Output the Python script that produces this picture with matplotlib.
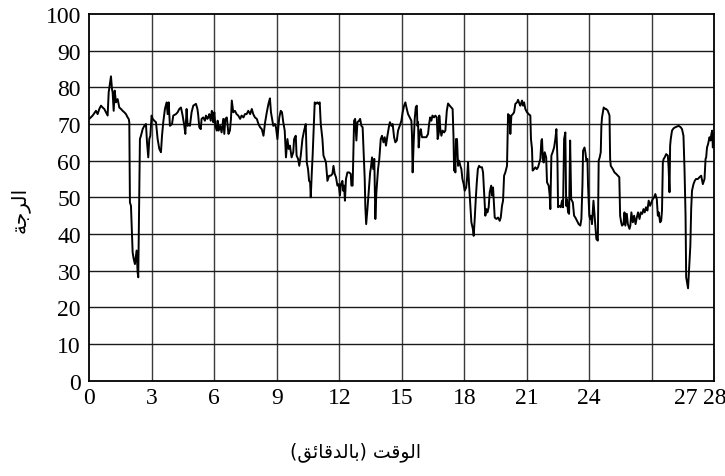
import matplotlib
matplotlib.use("Agg")
import matplotlib.pyplot as plt

# time positions (axis units) and values
time_pos = [
    0.00, 0.16, 0.32, 0.40, 0.48, 0.56, 0.64, 0.72, 0.80, 0.88, 0.93, 1.04, 1.09, 1.12, 1.17, 1.22, 1.28, 1.36,
    1.44, 1.52, 1.60, 1.68, 1.76, 1.84, 1.89, 1.92, 1.95, 2.00, 2.03, 2.08, 2.13, 2.19, 2.24, 2.27, 2.32, 2.35,
    2.43, 2.48, 2.56, 2.64, 2.72, 2.77, 2.83, 2.88, 2.93, 2.99, 3.04, 3.12, 3.20, 3.28, 3.36, 3.44, 3.49, 3.55,
    3.63, 3.71, 3.76, 3.81, 3.87, 3.97, 4.03, 4.16, 4.24, 4.32, 4.40, 4.48, 4.56, 4.61, 4.67, 4.72, 4.80,
    4.83, 4.91, 4.99, 5.12, 5.19, 5.23, 5.28, 5.35, 5.39, 5.47, 5.55, 5.60, 5.67, 5.71, 5.76, 5.83, 5.88, 5.92,
    5.95, 6.00, 6.05, 6.12, 6.16, 6.21, 6.28, 6.35, 6.43, 6.48, 6.53, 6.60, 6.68, 6.75, 6.80, 6.84, 6.91, 6.99,
    7.07, 7.15, 7.24, 7.31, 7.40, 7.47, 7.55, 7.63, 7.72, 7.80, 7.87, 7.95, 8.04, 8.12, 8.20, 8.28, 8.36, 8.44,
    8.52, 8.60, 8.67, 8.72, 8.79, 8.83, 8.91, 8.96, 9.03, 9.08, 9.12, 9.19, 9.25, 9.31, 9.38, 9.44, 9.51, 9.57,
    9.63, 9.71, 9.79,
    9.83, 9.91, 9.95, 10.02, 10.08, 10.15, 10.23, 10.31, 10.39, 10.44, 10.50, 10.55, 10.60, 10.63, 10.68, 10.72,
    10.79, 10.82, 10.87, 10.95, 11.00, 11.06, 11.11, 11.19, 11.24, 11.30, 11.36, 11.43, 11.51, 11.59, 11.67,
    11.72, 11.78, 11.84, 11.91, 11.97, 12.03, 12.08, 12.15, 12.19, 12.23, 12.27, 12.32, 12.39, 12.47, 12.55,
    12.58, 12.64, 12.71, 12.76, 12.82, 12.87, 12.95, 13.00, 13.06, 13.12, 13.16, 13.22, 13.25, 13.29, 13.35,
    13.41, 13.48, 13.52, 13.57, 13.63, 13.68, 13.73, 13.78, 13.86, 13.92, 13.99, 14.05, 14.12, 14.18, 14.24,
    14.31, 14.39, 14.43, 14.50, 14.56, 14.63, 14.69, 14.76,
    14.82, 14.90, 14.98, 15.04, 15.11, 15.17, 15.24, 15.30, 15.38, 15.46, 15.49, 15.52, 15.57, 15.62, 15.67,
    15.72, 15.75, 15.78, 15.81, 15.86, 15.91, 15.97, 16.07, 16.18, 16.26, 16.31, 16.36, 16.42, 16.47, 16.55,
    16.61, 16.68, 16.72, 16.77, 16.80, 16.85, 16.90, 16.96, 17.03, 17.09, 17.16, 17.22, 17.30, 17.38, 17.44,
    17.48, 17.51, 17.54, 17.57, 17.60, 17.65, 17.70, 17.75, 17.81, 17.86, 17.91, 17.97, 18.02, 18.09, 18.13,
    18.18, 18.23, 18.28, 18.34, 18.41, 18.45, 18.50, 18.55, 18.60, 18.65, 18.71, 18.77, 18.85, 18.90, 18.95,
    19.01, 19.06, 19.11, 19.17, 19.22, 19.29, 19.33, 19.38, 19.43, 19.46, 19.54, 19.62, 19.70, 19.75,
    19.81, 19.86, 19.91, 19.97, 20.05, 20.10, 20.17, 20.21, 20.26, 20.33, 20.39, 20.45, 20.53, 20.58, 20.65,
    20.69, 20.77, 20.82, 20.87, 20.93, 21.01, 21.09, 21.17, 21.20, 21.25, 21.28, 21.35, 21.41, 21.48, 21.54,
    21.60, 21.65, 21.70, 21.73, 21.77, 21.81, 21.86, 21.93, 21.97, 22.05, 22.10, 22.13, 22.18, 22.24, 22.31,
    22.37, 22.42, 22.47, 22.50, 22.57, 22.63, 22.69, 22.74, 22.79, 22.85, 22.89, 22.93, 22.98, 23.03, 23.08,
    23.13, 23.21, 23.27, 23.33, 23.41, 23.49, 23.57, 23.62, 23.67, 23.70, 23.77, 23.81, 23.86, 23.91, 23.94,
    24.00, 24.04, 24.08, 24.13, 24.20, 24.24, 24.29, 24.34, 24.41, 24.45, 24.50, 24.55, 24.58, 24.61, 24.69,
    24.77,
    24.81, 24.89, 24.97, 25.00, 25.03, 25.13, 25.21, 25.29, 25.37, 25.44, 25.48, 25.53, 25.57, 25.64, 25.69,
    25.73, 25.80, 25.85, 25.93, 25.97, 26.02, 26.09, 26.15, 26.22, 26.28, 26.34, 26.41, 26.47, 26.54, 26.60,
    26.66, 26.72, 26.79, 26.85, 26.92, 26.98, 27.04, 27.11, 27.17, 27.24, 27.29, 27.33, 27.40, 27.45, 27.49,
    27.53, 27.57, 27.62, 27.69, 27.77, 27.81, 27.85, 27.88, 27.91, 27.97, 28.04, 28.12, 28.20, 28.29, 28.39,
    28.45, 28.52, 28.57, 28.62, 28.65, 28.69, 28.74, 28.81, 28.85, 28.89, 28.93, 29.00, 29.06, 29.12, 29.21,
    29.29, 29.37, 29.45, 29.53, 29.58, 29.61, 29.65, 29.70, 29.77, 29.82, 29.86, 29.90, 29.93, 29.96, 30.00,
]

level = [
    71.4, 72.3, 73.6, 72.7, 74.1, 75.0, 74.5, 74.1, 73.2, 72.3, 78.6, 83.0, 79.5, 78.6, 73.6, 79.1, 75.9, 76.8,
    74.5, 74.1, 73.6, 73.2, 72.7, 71.8, 71.4, 70.5, 48.6, 47.7, 43.2, 35.0, 33.2, 31.8, 34.1, 35.5, 29.5, 28.2,
    65.9, 66.8, 68.6, 69.5, 70.0, 65.0, 60.9, 65.9, 66.8, 72.3, 71.4, 70.9, 70.5, 65.9, 63.2, 62.3, 66.8, 70.5,
    74.1, 75.9, 72.7, 75.9, 69.5, 70.0, 72.3, 72.7, 73.2, 74.1, 74.5, 72.3, 69.5, 67.3, 74.1, 69.5, 70.0,
    69.5, 73.2, 75.0, 75.5, 74.1, 72.3, 69.1, 68.6, 71.4, 71.8, 70.9, 72.3, 71.4, 71.8, 72.7, 70.9, 73.6, 72.7,
    70.5, 73.2, 69.5, 68.2, 70.9, 68.2, 69.5, 67.7, 71.4, 67.3, 71.4, 71.8, 67.3, 68.2, 71.4, 76.4, 73.2, 73.6,
    72.7, 72.3, 71.4, 72.3, 71.8, 72.7, 72.7, 73.6, 72.7, 74.1, 72.7, 71.8, 71.4, 70.0, 69.1, 68.6, 66.8, 70.5,
    73.2, 75.5, 77.0, 73.2, 70.9, 69.5, 70.0, 69.1, 65.9, 69.5, 71.8, 73.6, 73.2, 70.5, 68.2, 60.9, 65.9, 63.2,
    64.1, 60.9, 62.3,
    65.9, 66.8, 61.4, 60.5, 58.6, 61.4, 65.9, 68.2, 70.0, 59.5, 57.7, 54.5, 54.1, 50.0, 56.8, 61.4,
    71.4, 75.9, 75.5, 75.9, 75.5, 75.9, 70.0, 65.9, 61.4, 60.5, 59.5, 54.5, 55.9, 55.9, 56.4,
    58.6, 56.4, 55.5, 53.2, 53.6, 50.5, 53.6, 54.5, 51.8, 53.2, 49.1, 55.0, 56.8, 56.8, 56.4,
    53.2, 53.2, 70.9, 71.4, 65.5, 70.5, 70.9, 71.4, 69.5, 69.1, 63.6, 55.0, 47.3, 42.7, 46.8,
    51.4, 56.8, 58.2, 60.9, 57.7, 60.5, 44.1, 51.4, 57.7, 60.5, 65.9, 66.8, 65.0, 66.4, 64.1,
    66.8, 69.5, 70.5, 69.5, 70.0, 66.4, 65.0, 65.5,
    68.2, 69.5, 70.9, 73.2, 75.0, 75.9, 74.1, 72.7, 71.8, 70.9, 66.8, 56.8, 65.0, 71.4, 74.5,
    75.0, 69.5, 70.5, 63.6, 67.3, 68.6, 66.4, 66.4, 66.4, 67.3, 70.0, 71.8, 70.9, 72.3, 71.8,
    72.3, 71.8, 65.9, 67.3, 72.3, 68.6, 66.8, 68.2, 67.7, 68.2, 73.6, 75.6, 75.0, 74.5, 74.1,
    66.8, 57.3, 60.5, 56.8, 65.9, 65.9, 58.6, 60.0, 58.6, 57.7, 55.0, 53.6, 51.8, 52.7, 55.0,
    59.5, 53.2, 48.6, 43.2, 41.4, 39.5, 44.1, 49.5, 54.1, 57.7, 58.6, 58.2, 58.2, 56.8, 51.4,
    45.0, 46.8, 45.9, 47.3, 51.4, 53.2, 50.5, 52.7, 47.7, 44.5, 44.1, 44.5, 43.6, 44.5,
    47.7, 49.1, 55.9, 56.8, 58.6, 72.7, 72.3, 67.3, 72.3, 72.7, 73.2, 75.5, 75.9, 76.6, 75.5,
    75.0, 76.4, 75.0, 75.9, 74.1, 73.2, 72.7, 72.3, 65.9, 63.2, 57.3, 57.7, 58.2, 57.7, 58.2,
    59.5, 60.5, 65.5, 65.9, 60.5, 59.5, 62.3, 60.9, 54.1, 53.2, 50.5, 46.8, 61.4, 62.3, 63.6,
    65.9, 68.6, 60.5, 47.3, 47.7, 47.3, 49.1, 47.3, 65.9, 67.7, 47.7, 49.5, 45.9, 45.5, 65.5,
    49.5, 48.6, 45.0, 44.5, 43.6, 42.7, 42.3, 44.1, 53.2, 62.7, 63.6, 62.3, 60.0, 60.5, 53.2,
    45.0, 44.1, 45.0, 42.7, 49.1, 45.9, 42.3, 38.6, 38.2, 60.0, 60.9, 62.3, 69.5, 71.8, 74.5,
    74.1,
    74.1, 73.6, 72.3, 60.5, 58.6, 57.7, 56.8, 56.4, 55.9, 55.5, 45.0, 43.2, 42.3, 42.7, 45.9,
    42.3, 45.5, 42.7, 41.4, 42.3, 45.9, 43.2, 45.0, 42.7, 44.5, 45.9, 44.1, 45.9, 45.5, 46.8,
    45.9, 47.3, 46.4, 49.1, 47.7, 48.6, 49.5, 50.0, 50.9, 49.5, 45.0, 45.9, 43.2, 43.6, 46.4,
    59.5, 60.5, 60.9, 61.8, 61.4, 57.7, 51.4, 64.1, 65.9, 68.2, 68.8, 69.1, 69.3, 69.5, 69.1,
    68.6, 66.8, 57.7, 45.0, 28.2, 26.8, 25.2, 32.3, 36.8, 46.8, 51.8, 53.6, 54.5, 55.0, 55.0,
    55.5, 55.9, 53.6, 55.0, 60.5, 60.9, 63.6, 64.5, 66.4, 65.5, 67.3, 68.2, 63.6, 66.4, 67.3,
]

x_tick_pos = [0, 3, 6, 9, 12, 15, 18, 21, 24, 28.65, 30]
x_tick_labels = ["0", "3", "6", "9", "12", "15", "18", "21", "24", "27", "28"]
x_grid = [3, 6, 9, 12, 15, 18, 21, 24, 27]
y_ticks = [0, 10, 20, 30, 40, 50, 60, 70, 80, 90, 100]

# Arabic labels (presentation forms, visual order): "الرجة" and "الوقت (بالدقائق)"
y_label = "\uFE94\uFE9F\uFEAE\uFEDF\uFE8D"
x_label = "(\uFED6\uFE8B\uFE8E\uFED7\uFEAA\uFEDF\uFE8E\uFE91) \uFE96\uFED7\uFEEE\uFEDF\uFE8D"

W, H = 725, 477
fig = plt.figure(figsize=(W / 100, H / 100), dpi=100)
left, right, top, bottom = 89.3, 714.3, 15.0, 381.7
ax = fig.add_axes([left / W, 1 - bottom / H, (right - left) / W, (bottom - top) / H])

for gx in x_grid:
    ax.axvline(gx, color="#3a3a3a", lw=1.0, zorder=1)
for gy in y_ticks[1:-1]:
    ax.axhline(gy, color="#1a1a1a", lw=1.0, zorder=1)

ax.plot(time_pos, level, color="black", lw=1.4, zorder=3)

ax.set_xlim(0, 30)
ax.set_ylim(0, 100)
ax.set_xticks(x_tick_pos)
ax.set_xticklabels(x_tick_labels)
ax.set_yticks(y_ticks)
ax.tick_params(length=0, labelsize=17, colors="black")
ax.tick_params(axis="y", pad=6)
ax.tick_params(axis="x", pad=4.5)
for lab in ax.get_xticklabels() + ax.get_yticklabels():
    lab.set_fontfamily("Liberation Serif")
for sp in ax.spines.values():
    sp.set_linewidth(1.3)
    sp.set_color("black")

fig.text(20 / W, 1 - 210 / H, y_label, rotation=90, ha="center", va="center",
         fontsize=14.5, family=["DejaVu Sans"])
fig.text(355 / W, 1 - 452 / H, x_label, ha="center", va="center",
         fontsize=13.5, family=["DejaVu Sans"])

fig.savefig("out.png", dpi=100)
